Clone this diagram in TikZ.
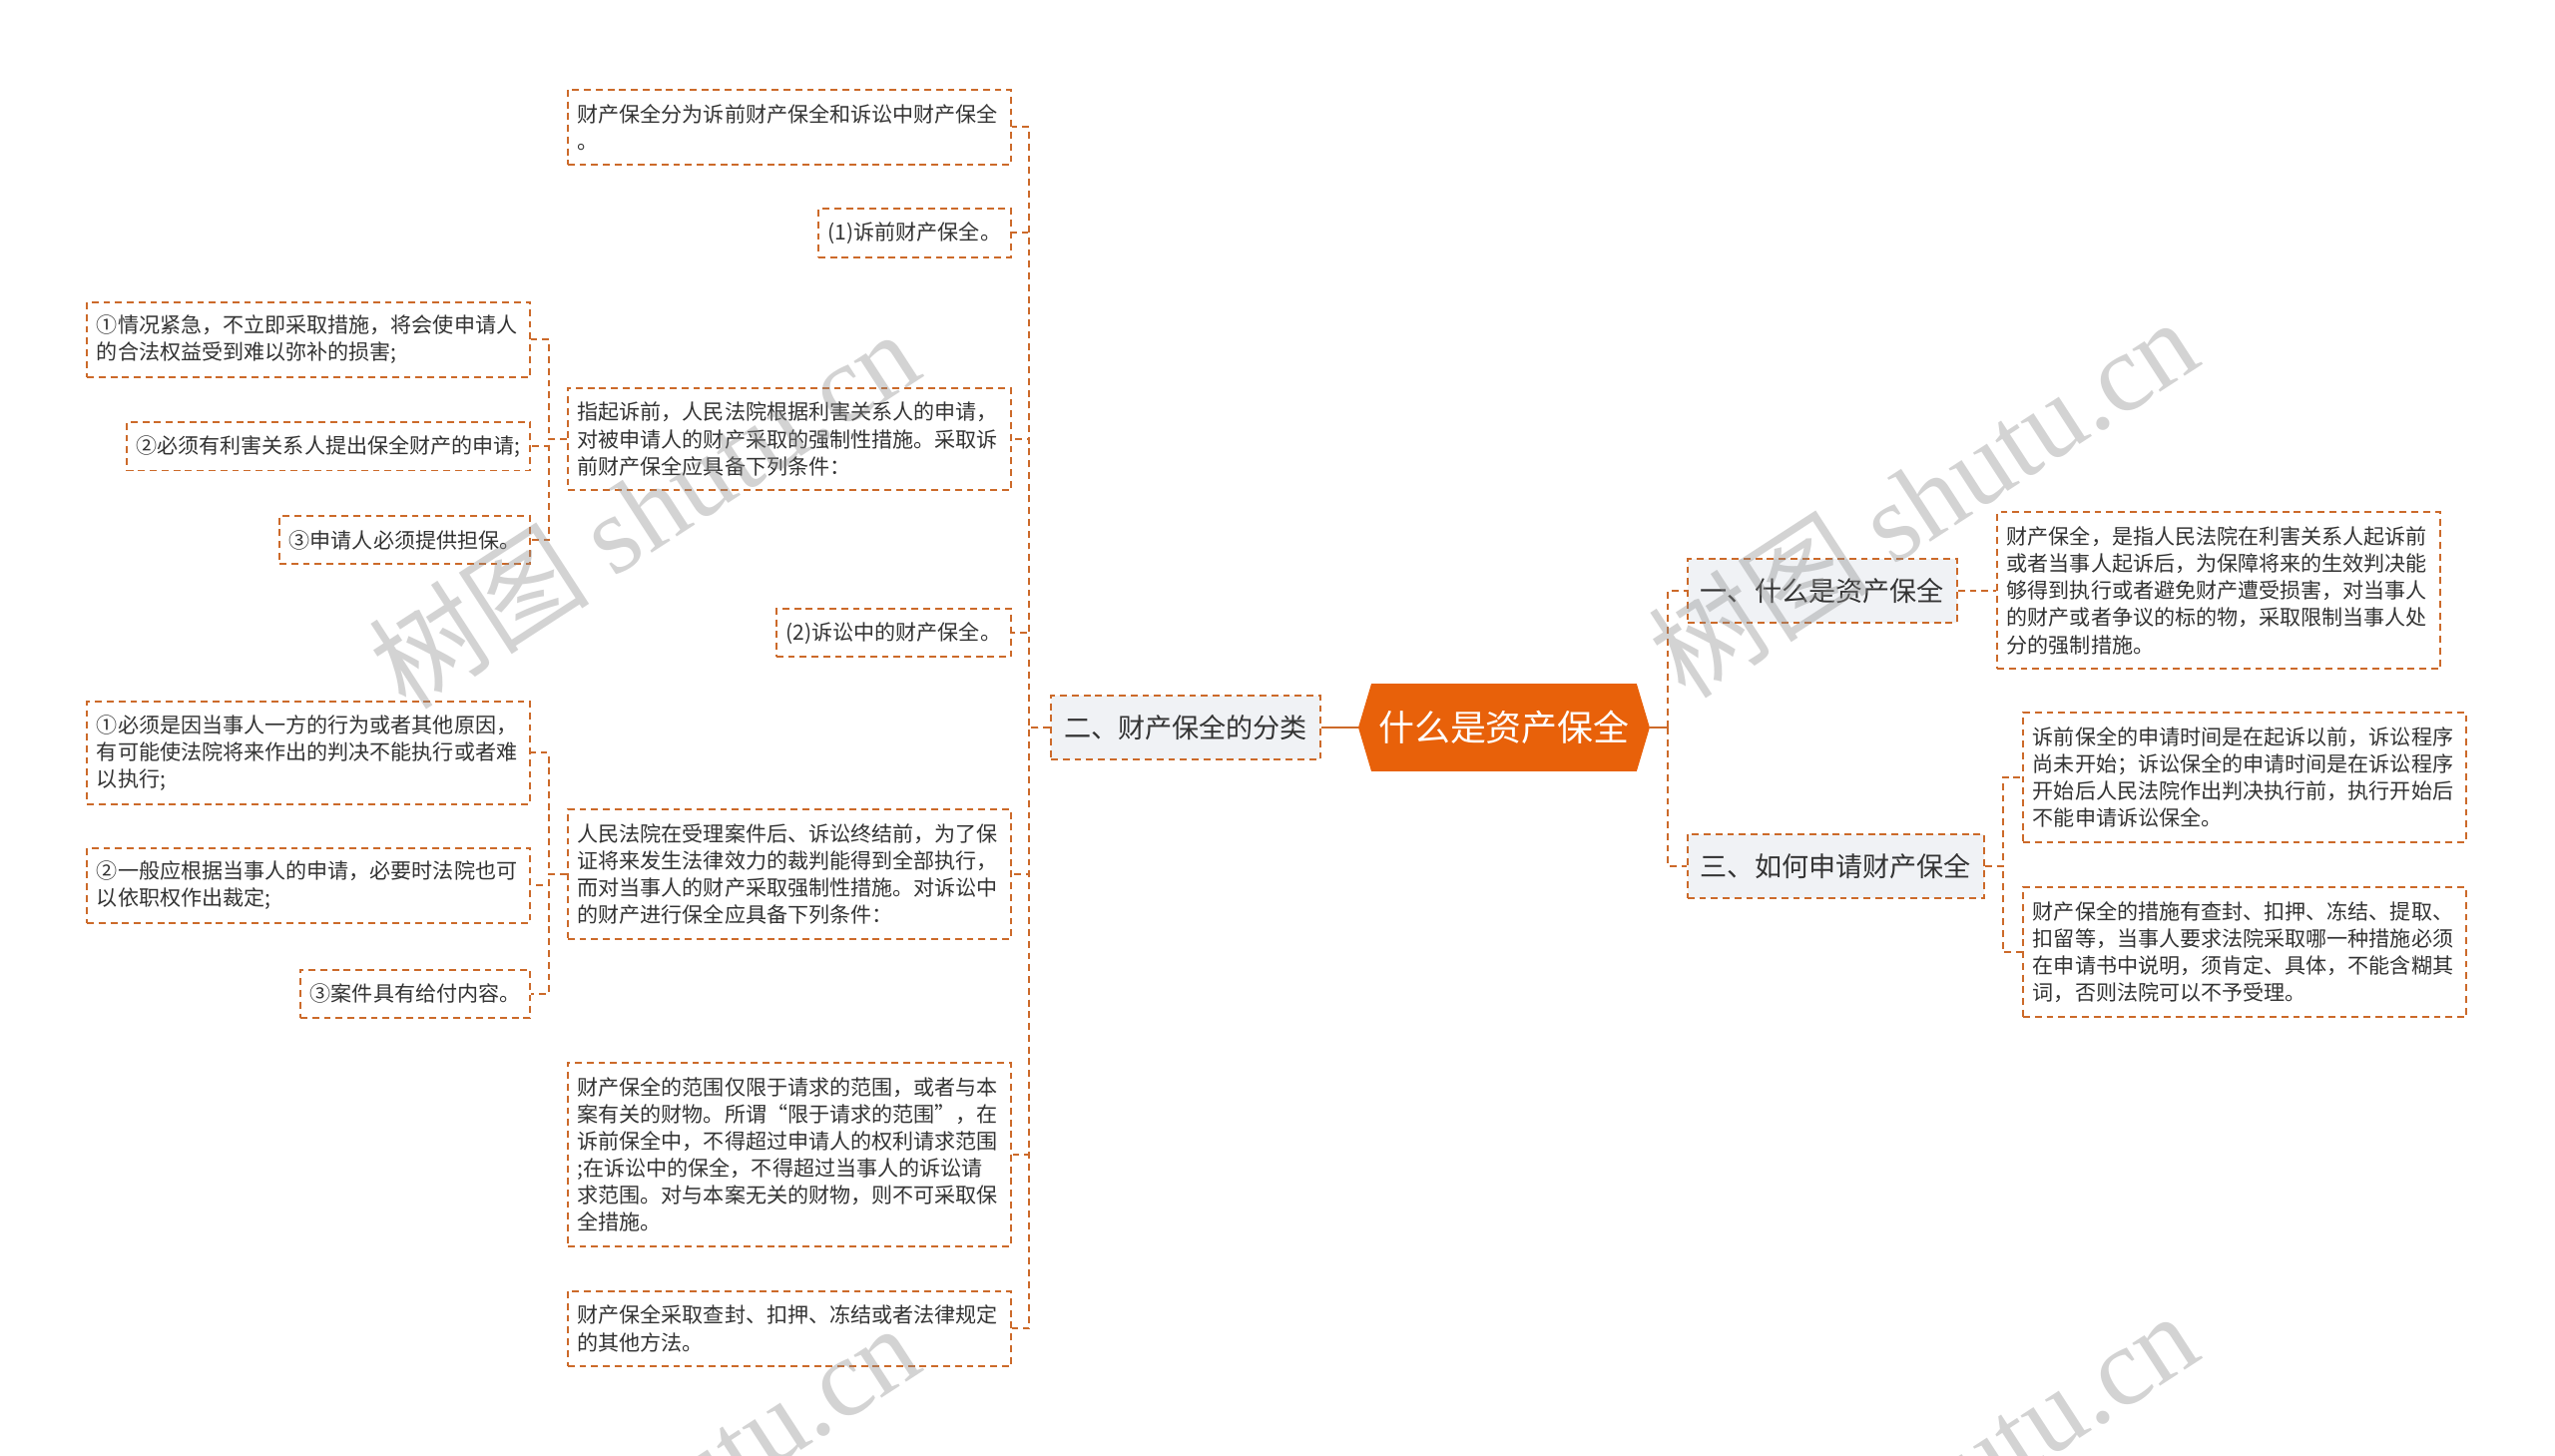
\documentclass[tikz,border=0pt]{standalone}
\usepackage{fontspec}
\setmainfont{Noto Sans CJK SC}
\newfontfamily\wmlatin{Liberation Serif}
\usetikzlibrary{calc,backgrounds}
\definecolor{brd}{HTML}{CC6A2A}
\definecolor{rootc}{HTML}{E8610A}
\definecolor{lvlfill}{HTML}{F0F2F5}
\definecolor{txt}{HTML}{333333}
\tikzset{
  dashline/.style={draw=brd, line width=0.6pt, dash pattern=on 2.1pt off 1.5pt},
  leaf/.style={dashline, fill=white, text=txt, font=\fontsize{6.45pt}{8.3pt}\selectfont,
    align=left, inner xsep=3pt, inner ysep=0pt},
  wide/.style={text width=130pt},
  h1/.style={minimum height=14.8pt},
  h2/.style={minimum height=23.1pt},
  h3/.style={minimum height=31.4pt},
  h4/.style={minimum height=39.7pt},
  h5/.style={minimum height=48pt},
  h6/.style={minimum height=56.3pt},
  lvl/.style={dashline, fill=lvlfill, text=txt, font=\fontsize{8.3pt}{10pt}\selectfont,
    inner xsep=4pt, inner ysep=0pt, minimum height=19.5pt},
  rootnode/.style={minimum width=89pt, minimum height=26.5pt, inner sep=0pt,
    text=white, font=\fontsize{11pt}{13pt}\selectfont},
  link/.style={dashline},
  rootlink/.style={draw=brd, line width=0.7pt},
  wmark/.style={rotate=33, text=black!45, opacity=0.38, inner sep=0pt,
    font=\fontsize{34pt}{34pt}\selectfont}
}
\begin{document}
\begin{tikzpicture}[x=0.5pt,y=-0.5pt]
\useasboundingbox (0,0) rectangle (1568,893.6);
\clip (0,0) rectangle (1568,893.6);

% root
\node[rootnode] (root) at (923,446.5) {什么是资产保全};
\begin{scope}[on background layer]
\fill[rootc] (root.west) -- ($(root.north west)+(4pt,0)$) -- ($(root.north east)+(-4pt,0)$)
  -- (root.east) -- ($(root.south east)+(-4pt,0)$) -- ($(root.south west)+(4pt,0)$) -- cycle;
\end{scope}

% level 1
\node[lvl, anchor=east] (n2) at (811,446.5) {二、财产保全的分类};
\node[lvl, anchor=west] (n1) at (1035,362.5) {一、什么是资产保全};
\node[lvl, anchor=west] (n3) at (1035,531.5) {三、如何申请财产保全};

% left column
\node[leaf, wide, h2, anchor=east] (a1) at (621,78) {财产保全分为诉前财产保全和诉讼中财产保全\\。};
\node[leaf, h1, anchor=east] (a2) at (621,143) {(1)诉前财产保全。};
\node[leaf, wide, h3, anchor=east] (a3) at (621,269.5) {指起诉前，人民法院根据利害关系人的申请，\\对被申请人的财产采取的强制性措施。采取诉\\前财产保全应具备下列条件：};
\node[leaf, h1, anchor=east] (a4) at (621,388.5) {(2)诉讼中的财产保全。};
\node[leaf, wide, h4, anchor=east] (a5) at (621,536.5) {人民法院在受理案件后、诉讼终结前，为了保\\证将来发生法律效力的裁判能得到全部执行，\\而对当事人的财产采取强制性措施。对诉讼中\\的财产进行保全应具备下列条件：};
\node[leaf, wide, h6, anchor=east] (a6) at (621,708.5) {财产保全的范围仅限于请求的范围，或者与本\\案有关的财物。所谓“限于请求的范围”，在\\诉前保全中，不得超过申请人的权利请求范围\\;在诉讼中的保全，不得超过当事人的诉讼请\\求范围。对与本案无关的财物，则不可采取保\\全措施。};
\node[leaf, wide, h2, anchor=east] (a7) at (621,815.5) {财产保全采取查封、扣押、冻结或者法律规定\\的其他方法。};

% sub leaves
\node[leaf, wide, h2, anchor=east] (b1) at (326,208.5) {①情况紧急，不立即采取措施，将会使申请人\\的合法权益受到难以弥补的损害;};
\node[leaf, h1, anchor=east] (b2) at (326,274) {②必须有利害关系人提出保全财产的申请;};
\node[leaf, h1, anchor=east] (b3) at (326,331.5) {③申请人必须提供担保。};
\node[leaf, wide, h3, anchor=east] (c1) at (326,462) {①必须是因当事人一方的行为或者其他原因，\\有可能使法院将来作出的判决不能执行或者难\\以执行;};
\node[leaf, wide, h2, anchor=east] (c2) at (326,543.5) {②一般应根据当事人的申请，必要时法院也可\\以依职权作出裁定;};
\node[leaf, h1, anchor=east] (c3) at (326,610) {③案件具有给付内容。};

% right leaves
\node[leaf, wide, h5, anchor=west] (r1) at (1225,362.5) {财产保全，是指人民法院在利害关系人起诉前\\或者当事人起诉后，为保障将来的生效判决能\\够得到执行或者避免财产遭受损害，对当事人\\的财产或者争议的标的物，采取限制当事人处\\分的强制措施。};
\node[leaf, wide, h4, anchor=west] (r2) at (1241,477) {诉前保全的申请时间是在起诉以前，诉讼程序\\尚未开始；诉讼保全的申请时间是在诉讼程序\\开始后人民法院作出判决执行前，执行开始后\\不能申请诉讼保全。};
\node[leaf, wide, h4, anchor=west] (r3) at (1241,584.5) {财产保全的措施有查封、扣押、冻结、提取、\\扣留等，当事人要求法院采取哪一种措施必须\\在申请书中说明，须肯定、具体，不能含糊其\\词，否则法院可以不予受理。};

% connectors
\draw[rootlink] (root.west) -- (n2.east);
\draw[rootlink] (root.east) -- ++(5.5pt,0) coordinate (rj);
\draw[link] (rj) |- (n1.west);
\draw[link] (rj) |- (n3.west);
\foreach \t in {a1,a2,a3,a4,a5,a6,a7}
  \draw[link] (n2.west) -- ++(-6.5pt,0) |- (\t.east);
\foreach \t in {b1,b2,b3}
  \draw[link] (a3.west) -- ++(-5.5pt,0) |- (\t.east);
\foreach \t in {c1,c2,c3}
  \draw[link] (a5.west) -- ++(-5.5pt,0) |- (\t.east);
\draw[link] (n1.east) -- (r1.west);
\foreach \t in {r2,r3}
  \draw[link] (n3.east) -- ++(5.5pt,0) |- (\t.west);

% watermarks
\node[wmark] (w1) at (395,312) {树图 {\wmlatin shutu.cn}};
\node[wmark] (w2) at (1180,305) {树图 {\wmlatin shutu.cn}};
\node[wmark] (w3) at (395,922) {树图 {\wmlatin shutu.cn}};
\node[wmark] (w4) at (1180,915) {树图 {\wmlatin shutu.cn}};
\end{tikzpicture}
\end{document}
